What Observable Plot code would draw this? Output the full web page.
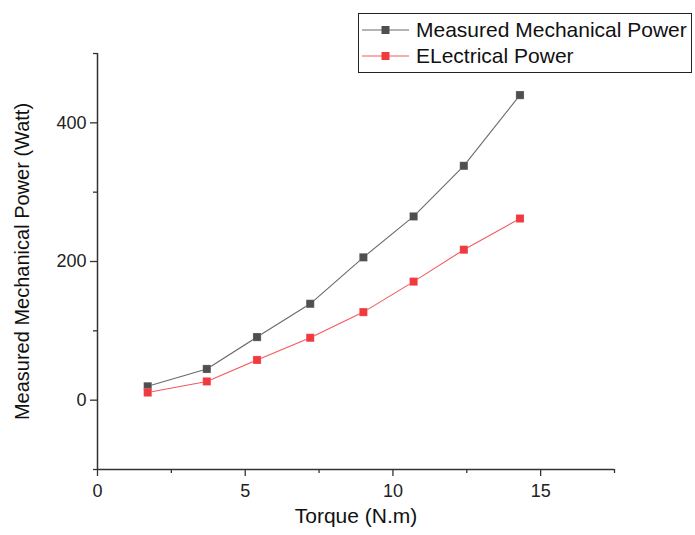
<!DOCTYPE html>
<html>
<head>
<meta charset="utf-8">
<script src="https://cdn.jsdelivr.net/npm/d3@7"></script>
<script src="https://cdn.jsdelivr.net/npm/@observablehq/plot@0.6"></script>
<style>
  body { margin: 0; background: #fff; font-family: "Liberation Sans", Arial, sans-serif; }
  #wrap { position: relative; width: 695px; height: 535px; }
  .legend {
    position: absolute; left: 358px; top: 13px; width: 334px; height: 60px;
    border: 1px solid #222; background: #fff; box-sizing: border-box;
  }
  .legend .row { position: absolute; left: 0; height: 26px; display: flex; align-items: center; }
  .legend .row svg { margin-left: 3px; }
  .legend .row span { margin-left: 7px; font-size: 21px; color: #111; white-space: nowrap; }
</style>
</head>
<body>
<div id="wrap"></div>
<script>
// Torque (N.m) and the two power series (Watt)
const torque = [1.7, 3.7, 5.4, 7.2, 9.0, 10.7, 12.4, 14.3];
const mechanicalPower = [20, 45, 91, 139, 206, 265, 338, 440];
const electricalPower = [11, 27, 58, 90, 127, 171, 217, 262];

const seriesNames = ["Measured Mechanical Power", "ELectrical Power"];
const seriesColors = ["#4f4f4f", "#f03a40"];
const lineColors = ["#6a6a6a", "#f25a5e"];

const xMajorTicks = [0, 5, 10, 15];
const xMinorTicks = [2.5, 7.5, 12.5, 17.5];
const yMajorTicks = [0, 200, 400];
const yMinorTicks = [-100, 100, 300, 500];

const xLabel = "Torque (N.m)";
const yLabel = "Measured Mechanical Power (Watt)";

const rows = [];
torque.forEach((t, i) => {
  rows.push({series: seriesNames[0], torque: t, power: mechanicalPower[i]});
  rows.push({series: seriesNames[1], torque: t, power: electricalPower[i]});
});

const chart = Plot.plot({
  width: 695,
  height: 535,
  marginLeft: 97,
  marginRight: 81,
  marginTop: 53,
  marginBottom: 66,
  style: {fontFamily: "Liberation Sans, Arial, sans-serif", fontSize: "18px", color: "#222", background: "#fff"},
  x: {domain: [0, 17.5]},
  y: {domain: [-100, 500]},
  color: {domain: seriesNames, range: seriesColors},
  marks: [
    Plot.axisX({ticks: xMajorTicks, tickSize: 7, tickPadding: 8, label: null, stroke: "#333", strokeWidth: 1.3}),
    Plot.axisX({ticks: xMinorTicks, tickSize: 4, text: null, label: null, stroke: "#333", strokeWidth: 1.3}),
    Plot.axisY({ticks: yMajorTicks, tickSize: 7, tickPadding: 4, label: null, stroke: "#333", strokeWidth: 1.3}),
    Plot.axisY({ticks: yMinorTicks, tickSize: 4, text: null, label: null, stroke: "#333", strokeWidth: 1.3}),
    Plot.ruleX([0], {stroke: "#333", strokeWidth: 1.5}),
    Plot.ruleY([-100], {stroke: "#333", strokeWidth: 1.5}),
    Plot.line(rows.filter(d => d.series === seriesNames[0]), {x: "torque", y: "power", stroke: lineColors[0], strokeWidth: 1.1}),
    Plot.line(rows.filter(d => d.series === seriesNames[1]), {x: "torque", y: "power", stroke: lineColors[1], strokeWidth: 1.1}),
    Plot.dot(rows, {x: "torque", y: "power", fill: "series", symbol: "square", r: 4.6, stroke: "#fff", strokeOpacity: 0.35, strokeWidth: 0.6}),
    Plot.text([xLabel], {text: d => d, frameAnchor: "bottom", dy: 53, fontSize: 21, fill: "#111"}),
    Plot.text([yLabel], {text: d => d, frameAnchor: "left", textAnchor: "middle", dx: -75, rotate: -90, fontSize: 20, fill: "#111"})
  ]
});

const wrap = document.getElementById("wrap");
wrap.appendChild(chart);

// Legend box in the upper right
const legend = document.createElement("div");
legend.className = "legend";
seriesNames.forEach((name, i) => {
  const row = document.createElement("div");
  row.className = "row";
  row.style.top = (3 + i * 26) + "px";
  row.innerHTML =
    `<svg width="47" height="12"><line x1="0" x2="47" y1="6" y2="6" stroke="${lineColors[i]}" stroke-width="1.1"/>` +
    `<rect x="19.5" y="2" width="8" height="8" fill="${seriesColors[i]}"/></svg><span>${name}</span>`;
  legend.appendChild(row);
});
wrap.appendChild(legend);
</script>
</body>
</html>
